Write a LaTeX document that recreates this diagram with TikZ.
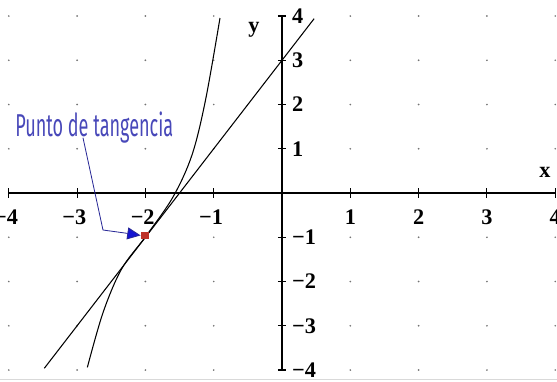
\documentclass[tikz,border=0pt]{standalone}
\usepackage{fontspec}
\usepackage{graphicx}
\usetikzlibrary{arrows.meta}
\newfontfamily\ticksfont{Liberation Serif}
\newfontfamily\notefont{Fira Sans}
\definecolor{noteblue}{RGB}{72,72,185}
\definecolor{arrowblue}{RGB}{40,40,150}
\definecolor{tipblue}{RGB}{20,20,210}
\definecolor{dotred}{RGB}{190,50,40}
\begin{document}
\begin{tikzpicture}[
  x=2.049cm, y=1.3275cm,
  axis/.style={line width=1.3pt, black},
  tick/.style={line width=0.9pt, black},
  curve/.style={line width=0.9pt, black},
  gridpt/.style={circle, fill=black!55, inner sep=0pt, minimum size=1.6pt},
  ticklabel/.style={font=\ticksfont\bfseries\fontsize{19}{19}\selectfont, inner sep=0pt},
  pointer/.style={line width=0.7pt, arrowblue, -{Triangle[length=4mm, width=3.6mm, fill=tipblue]}},
  tangpt/.style={rectangle, fill=dotred, minimum width=2.4mm, minimum height=2.1mm, inner sep=0pt}
]
\useasboundingbox (-4.129,-4.249) rectangle (4.026,4.362);

% === Grid points ===
\foreach \i in {-4,...,4}
  \foreach \j in {-4,...,4}
    \node[gridpt] at (\i,\j) {};

% === Window edge ===
\draw[black!15, line width=0.6pt] (-4.2,-4.2) -- (4.1,-4.2);

% === Axes ===
\coordinate (xmin) at (-4.01,0);
\coordinate (xmax) at (4.0,0);
\coordinate (ymin) at (0,-4);
\coordinate (ymax) at (0,4);
\draw[axis] (xmin) -- (xmax);
\draw[axis] (ymin) -- (ymax);

% === Ticks and numbers ===
\foreach \i in {-4,-3,-2,-1} {
  \draw[tick] (\i,-0.11) -- (\i,0.11);
  \node[ticklabel] at (\i-0.04,-0.54) {−\the\numexpr-\i\relax};
}
\foreach \i in {1,2,3,4} {
  \draw[tick] (\i,-0.11) -- (\i,0.11);
  \node[ticklabel] at (\i,-0.54) {\i};
}
\foreach \j in {1,2,3,4} {
  \draw[tick] (-0.06,\j) -- (0.06,\j);
  \node[ticklabel, anchor=west] at (0.146,\j) {\j};
}
\foreach \j in {-4,-3,-2,-1} {
  \draw[tick] (-0.06,\j) -- (0.06,\j);
  \node[ticklabel, anchor=west] at (0.146,\j) {−\the\numexpr-\j\relax};
}
\node[ticklabel] (xlab) at (3.85,0.46) {x};
\node[ticklabel] (ylab) at (-0.41,3.68) {y};

% === Tangent line y = 2x + 3 ===
\draw[curve] (-3.48,-3.96) -- (0.47,3.94);

% === Curve ===
\draw[curve] plot[smooth, tension=0.55] coordinates {
  (-2.85,-3.94) (-2.62,-2.7) (-2.35,-1.72) (-2.0,-0.99)
  (-1.6,-0.1) (-1.32,0.85) (-1.12,2.1) (-0.908,3.955)};

% === Tangency point and note ===
\node[tangpt] (tang) at (-2.0,-0.96) {};
\node[anchor=base west, inner sep=0pt, text=noteblue] (lbl) at (-3.909,1.266)
  {\resizebox{4.74cm}{\height}{\notefont\fontsize{27}{27}\selectfont Punto de tangencia}};
\coordinate (lblfoot) at (-2.914,1.25);
\coordinate (bendA) at (-2.621,-0.836);
\coordinate (bendB) at (-2.30,-0.904);
\draw[pointer, shorten >=0.5pt] (lblfoot) -- (bendA) -- (bendB) -- (tang.west);

\end{tikzpicture}
\end{document}
